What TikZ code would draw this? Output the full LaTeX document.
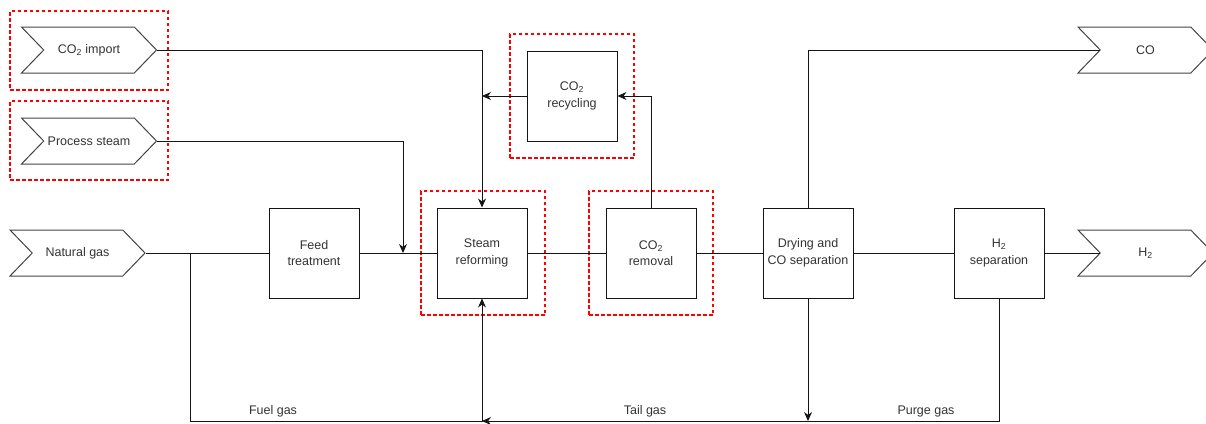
\documentclass[tikz,border=0pt]{standalone}
\usepackage{fontspec}
\setmainfont{Liberation Sans}
\usetikzlibrary{shapes.symbols,arrows.meta,positioning}
\definecolor{txt}{RGB}{51,51,51}
\definecolor{ln}{RGB}{20,20,20}
\definecolor{hl}{RGB}{255,0,0}
\tikzset{
  proc/.style={draw=ln, line width=1pt, minimum width=90pt, minimum height=90pt, align=center, text=txt, font=\fontsize{12.5}{16.5}\selectfont, inner sep=0pt},
  chev/.style={draw=ln!80, line width=1pt, signal, signal from=west, signal to=east, signal pointer angle=92, minimum width=135pt, minimum height=46pt, text=txt, font=\fontsize{12.5}{15}\selectfont, inner sep=0pt},
  conn/.style={draw=ln, line width=0.9pt},
  arr/.style={conn, -{Stealth[length=9pt,width=8pt]}},
  redbox/.style={draw=hl, line width=1.1pt, dash pattern=on 3.5pt off 2.5pt, inner sep=0pt, fill=none},
  lbl/.style={text=txt, font=\fontsize{12.5}{15}\selectfont, inner sep=0pt}
}
\begin{document}
\begin{tikzpicture}[x=1pt,y=-1pt]
\useasboundingbox (0,0) rectangle (1206,423);
% dashed highlight boxes
\node[redbox, minimum width=158pt, minimum height=79pt] (hl1) at (89,50.5) {};
\node[redbox, minimum width=158pt, minimum height=79pt] (hl2) at (89,140.5) {};
\node[redbox, minimum width=124pt, minimum height=124pt] (hl3) at (483,253) {};
\node[redbox, minimum width=124pt, minimum height=124pt] (hl4) at (651,253) {};
\node[redbox, minimum width=124pt, minimum height=124pt] (hl5) at (572,96) {};
% inputs / outputs
\node[chev] (imp) at (89,50) {CO\textsubscript{2} import};
\node[chev] (ps) at (89,141) {Process steam};
\node[chev] (ng) at (77.5,253) {Natural gas};
\node[chev] (co) at (1145.5,50) {CO};
\node[chev] (h2) at (1145.5,253) {H\textsubscript{2}};
% processes
\node[proc] (ft) at (314,253) {Feed\\treatment};
\node[proc] (sr) at (482,253) {Steam\\reforming};
\node[proc] (cr) at (651,253) {CO\textsubscript{2}\\removal};
\node[proc] (rec) at (572,96) {CO\textsubscript{2}\\recycling};
\node[proc] (dry) at (808,253) {Drying and\\CO separation};
\node[proc] (hs) at (999,253) {H\textsubscript{2}\\separation};
% junction coordinates
\coordinate (jn) at (403,253);
\coordinate (fb) at (190,253);
\coordinate (b1) at (482,421);
\coordinate (b2) at (808,421);
\coordinate (m1) at (482,96);
% connectors
\draw[arr] (imp.east) -| (sr.north);
\draw[arr] (ps.east) -| (jn);
\draw[conn] (ng.east) -- (ft.west);
\draw[arr] (fb) |- (b1) -- (sr.south);
\draw[conn] (ft.east) -- (sr.west);
\draw[conn] (sr.east) -- (cr.west);
\draw[conn] (cr.east) -- (dry.west);
\draw[conn] (dry.east) -- (hs.west);
\draw[conn] (hs.east) -- (h2.west);
\draw[arr] (cr.north) |- (rec.east);
\draw[arr] (rec.west) -- (m1);
\draw[conn] (dry.north) |- (co.west);
\draw[arr] (dry.south) -- (b2);
\draw[arr] (hs.south) |- (b1);
% labels
\node[lbl] (lfuel) at (273,411) {Fuel gas};
\node[lbl] (ltail) at (645,411) {Tail gas};
\node[lbl] (lpurge) at (926,411) {Purge gas};
\end{tikzpicture}
\end{document}
